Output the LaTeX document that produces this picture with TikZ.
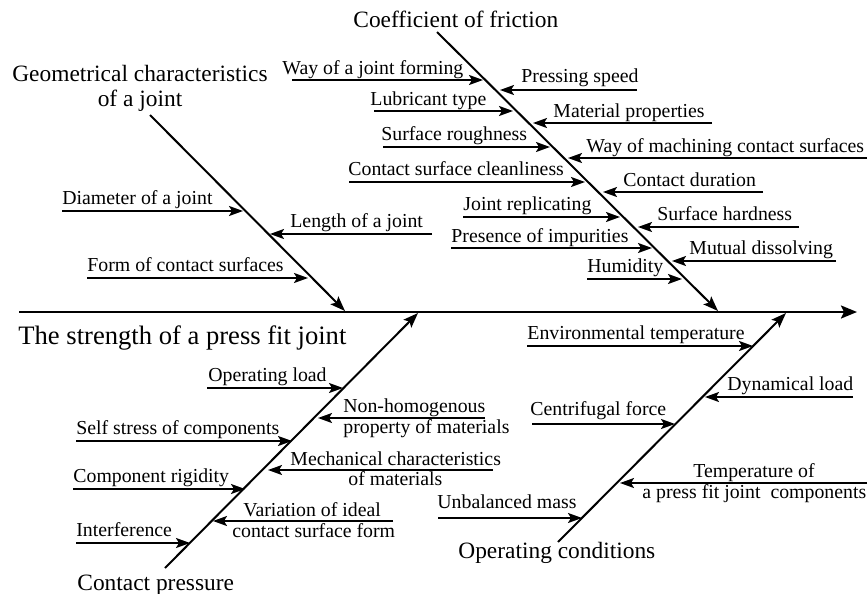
\documentclass[tikz,border=0pt]{standalone}
\usepackage{fontspec}
\setmainfont{Liberation Serif}
\usetikzlibrary{arrows.meta}

\begin{document}
\begin{tikzpicture}
[x=0.5pt,y=-0.5pt,%
  spine/.style={line width=1.1pt,-{Stealth[length=8pt,width=6.5pt,inset=1.5pt]}},%
  bone/.style={line width=1pt,-{Stealth[length=7.5pt,width=5.5pt,inset=1.5pt]}},%
  rib/.style={line width=0.9pt,-{Stealth[length=7pt,width=5pt,inset=1.5pt]}},%
  factor/.style={inner sep=0pt,anchor=base west,font=\fontsize{9.9}{11}\selectfont},%
  cause/.style={inner sep=0pt,anchor=base west,font=\fontsize{11.7}{12.5}\selectfont,align=center}]
\useasboundingbox (0,0) rectangle (868,594);

% spine and effect
\coordinate (s-a) at (19,312); \coordinate (s-b) at (857,312);
\draw[spine] (s-a) -- (s-b);
\node[cause,font=\fontsize{13.3}{15}\selectfont] (effect) at (18,344) {The strength of a press fit joint};

% main bones
\coordinate (geo-a) at (150,115); \coordinate (geo-b) at (345,311);
\coordinate (fri-a) at (437,32);  \coordinate (fri-b) at (718,311);
\coordinate (pre-a) at (165,568); \coordinate (pre-b) at (418,313);
\coordinate (opc-a) at (558,542); \coordinate (opc-b) at (786,313);
\draw[bone] (geo-a) -- (geo-b);
\draw[bone] (fri-a) -- (fri-b);
\draw[bone] (pre-a) -- (pre-b);
\draw[bone] (opc-a) -- (opc-b);

\node[cause,anchor=north] (geo) at (140,65) {Geometrical characteristics\\of a joint};
\node[cause] (fri) at (353,27) {Coefficient of friction};
\node[cause] (pre) at (77,590) {Contact pressure};
\node[cause] (opc) at (458,558) {Operating conditions};

% geometrical characteristics
\node[factor] (dia) at (62,204) {Diameter of a joint};
\coordinate (dia-a) at (62,211); \coordinate (dia-b) at (243,211);
\draw[rib] (dia-a) -- (dia-b);
\node[factor] (len) at (290,227) {Length of a joint};
\coordinate (len-a) at (432,234); \coordinate (len-b) at (270,234);
\draw[rib] (len-a) -- (len-b);
\node[factor] (frm) at (87,271) {Form of contact surfaces};
\coordinate (frm-a) at (87,278); \coordinate (frm-b) at (308,278);
\draw[rib] (frm-a) -- (frm-b);

% coefficient of friction, left
\node[factor] (wjf) at (282,74) {Way of a joint forming};
\coordinate (wjf-a) at (292,80); \coordinate (wjf-b) at (483,80);
\draw[rib] (wjf-a) -- (wjf-b);
\node[factor] (lub) at (370,105) {Lubricant type};
\coordinate (lub-a) at (374,111); \coordinate (lub-b) at (513,111);
\draw[rib] (lub-a) -- (lub-b);
\node[factor] (rgh) at (381,140) {Surface roughness};
\coordinate (rgh-a) at (383,147); \coordinate (rgh-b) at (550,147);
\draw[rib] (rgh-a) -- (rgh-b);
\node[factor] (csc) at (348,175) {Contact surface cleanliness};
\coordinate (csc-a) at (349,182); \coordinate (csc-b) at (585,182);
\draw[rib] (csc-a) -- (csc-b);
\node[factor] (jrp) at (463,210) {Joint replicating};
\coordinate (jrp-a) at (463,217); \coordinate (jrp-b) at (620,217);
\draw[rib] (jrp-a) -- (jrp-b);
\node[factor] (imp) at (451,242) {Presence of impurities};
\coordinate (imp-a) at (451,248); \coordinate (imp-b) at (652,248);
\draw[rib] (imp-a) -- (imp-b);
\node[factor] (hum) at (587,272) {Humidity};
\coordinate (hum-a) at (587,279); \coordinate (hum-b) at (682,279);
\draw[rib] (hum-a) -- (hum-b);

% coefficient of friction, right
\node[factor] (psp) at (521,83) {Pressing speed};
\coordinate (psp-a) at (637,90); \coordinate (psp-b) at (500,90);
\draw[rib] (psp-a) -- (psp-b);
\node[factor] (mat) at (553,117) {Material properties};
\coordinate (mat-a) at (712,123); \coordinate (mat-b) at (533,123);
\draw[rib] (mat-a) -- (mat-b);
\node[factor] (wmc) at (586,152) {Way of machining contact surfaces};
\coordinate (wmc-a) at (867,158); \coordinate (wmc-b) at (568,158);
\draw[rib] (wmc-a) -- (wmc-b);
\node[factor] (cdu) at (623,186) {Contact duration};
\coordinate (cdu-a) at (763,192); \coordinate (cdu-b) at (603,192);
\draw[rib] (cdu-a) -- (cdu-b);
\node[factor] (shd) at (657,220) {Surface hardness};
\coordinate (shd-a) at (799,227); \coordinate (shd-b) at (638,227);
\draw[rib] (shd-a) -- (shd-b);
\node[factor] (mds) at (689,254) {Mutual dissolving};
\coordinate (mds-a) at (836,261); \coordinate (mds-b) at (672,261);
\draw[rib] (mds-a) -- (mds-b);

% contact pressure
\node[factor] (opl) at (208,381) {Operating load};
\coordinate (opl-a) at (207,388); \coordinate (opl-b) at (343,388);
\draw[rib] (opl-a) -- (opl-b);
\node[factor] (sst) at (76,434) {Self stress of components};
\coordinate (sst-a) at (76,441); \coordinate (sst-b) at (292,441);
\draw[rib] (sst-a) -- (sst-b);
\node[factor] (crg) at (73,482) {Component rigidity};
\coordinate (crg-a) at (73,489); \coordinate (crg-b) at (245,489);
\draw[rib] (crg-a) -- (crg-b);
\node[factor] (itf) at (76,536) {Interference};
\coordinate (itf-a) at (76,543); \coordinate (itf-b) at (190,543);
\draw[rib] (itf-a) -- (itf-b);
\node[factor] (nhm) at (343,412) {Non-homogenous};
\node[factor] (nhm2) at (343,433) {property of materials};
\coordinate (nhm-a) at (485,418); \coordinate (nhm-b) at (318,418);
\draw[rib] (nhm-a) -- (nhm-b);
\node[factor] (mch) at (290,465) {Mechanical characteristics};
\node[factor] (mch2) at (348,485) {of materials};
\coordinate (mch-a) at (493,470); \coordinate (mch-b) at (268,470);
\draw[rib] (mch-a) -- (mch-b);
\node[factor] (var) at (243,516) {Variation of ideal};
\node[factor] (var2) at (232,537) {contact surface form};
\coordinate (var-a) at (393,521); \coordinate (var-b) at (213,521);
\draw[rib] (var-a) -- (var-b);

% operating conditions
\node[factor] (env) at (527,339) {Environmental temperature};
\coordinate (env-a) at (527,346); \coordinate (env-b) at (753,346);
\draw[rib] (env-a) -- (env-b);
\node[factor] (dyn) at (727,390) {Dynamical load};
\coordinate (dyn-a) at (853,397); \coordinate (dyn-b) at (705,397);
\draw[rib] (dyn-a) -- (dyn-b);
\node[factor] (cen) at (530,415) {Centrifugal force};
\coordinate (cen-a) at (532,424); \coordinate (cen-b) at (675,424);
\draw[rib] (cen-a) -- (cen-b);
\node[factor] (tmp) at (693,477) {Temperature of};
\node[factor] (tmp2) at (642,498) {a press fit joint~ components};
\coordinate (tmp-a) at (867,483); \coordinate (tmp-b) at (620,483);
\draw[rib] (tmp-a) -- (tmp-b);
\node[factor] (unb) at (437,508) {Unbalanced mass};
\coordinate (unb-a) at (438,518); \coordinate (unb-b) at (582,518);
\draw[rib] (unb-a) -- (unb-b);
\end{tikzpicture}
\end{document}
